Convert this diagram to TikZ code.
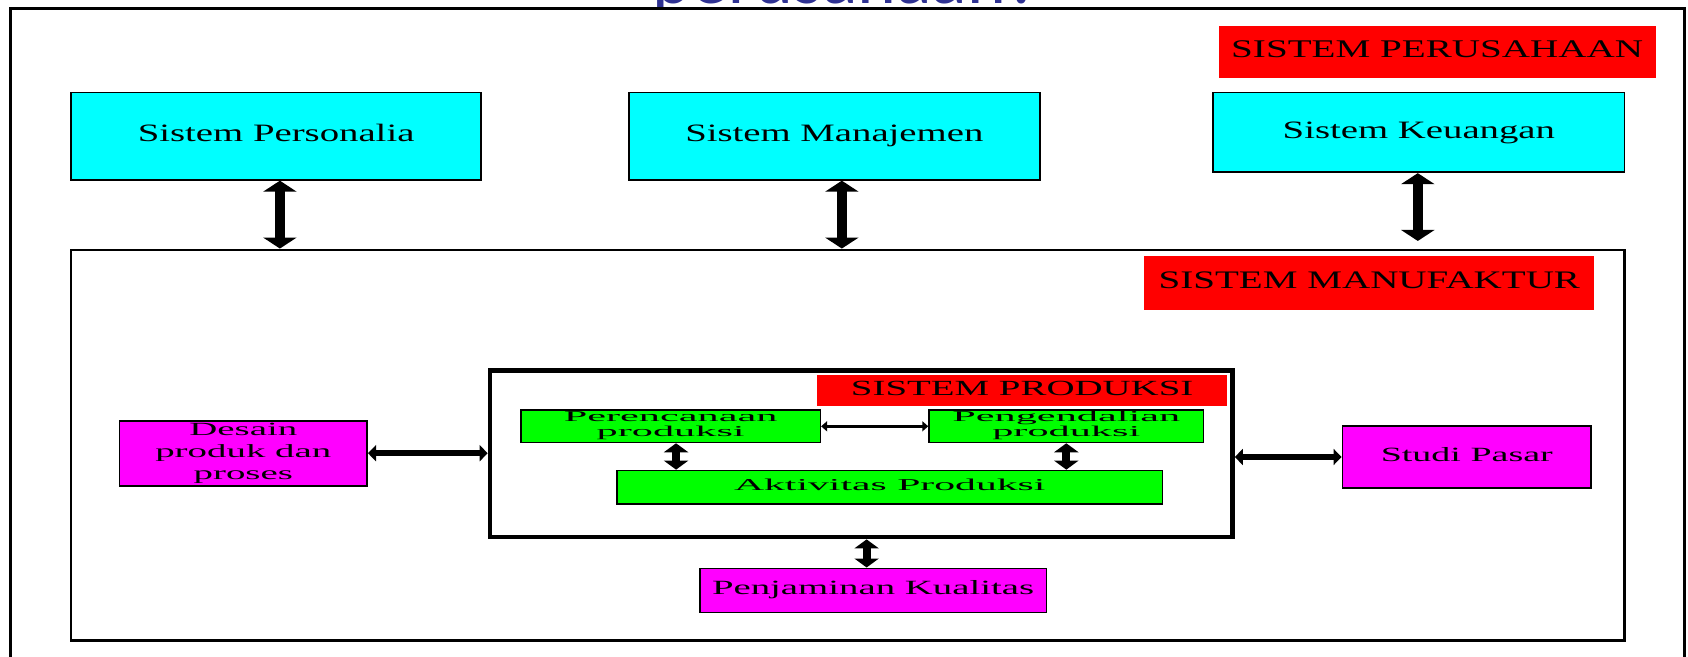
\documentclass[tikz,border=0pt]{standalone}
\usepackage{fontspec}
\usepackage{graphicx}
\setmainfont{Liberation Serif}
\newfontfamily\titlefont{Carlito}
\usetikzlibrary{arrows.meta}
% one drawing unit in points
\def\px{0.5382pt}
% wide text: size, baselineskip, horizontal stretch, lines
\newcommand\wtx[4]{{\fontsize{#1pt}{#2pt}\selectfont\scalebox{#3}[1]{\begin{tabular}{@{}c@{}}#4\end{tabular}}}}
\definecolor{titleblue}{HTML}{2E3192}
\definecolor{boxcyan}{HTML}{00FFFF}
\definecolor{boxred}{HTML}{FF0000}
\definecolor{boxmag}{HTML}{FF00FF}
\definecolor{boxgreen}{HTML}{00FF00}
\begin{document}
\begin{tikzpicture}[x=0.5382pt,y=-0.5382pt,
  box/.style={draw=black,line width=0.9pt,inner sep=0pt},
  tag/.style={fill=boxred,inner sep=0pt},
  bigarrow/.style={line width=4.8pt,{Triangle[width=16.5pt,length=5.5pt]}-{Triangle[width=16.5pt,length=5.5pt]}},
  midarrow/.style={line width=4pt,{Triangle[width=12pt,length=4.5pt]}-{Triangle[width=12pt,length=4.5pt]}},
  harrow/.style={line width=3.2pt,{Triangle[width=8pt,length=4pt]}-{Triangle[width=8pt,length=4pt]}},
  thinarrow/.style={line width=1.8pt,{Triangle[width=5pt,length=3pt]}-{Triangle[width=5pt,length=3pt]}}]
\useasboundingbox (0,0) rectangle (1568,610);
\clip (0,0) rectangle (1568,610);

% heading above the frame
\node[anchor=base west,inner sep=0pt,text=titleblue,
      font=\titlefont\fontsize{37pt}{40pt}\selectfont] (ttl) at (606,3) {perusahaan?};

% outer frame
\node[draw=black,fill=white,line width=1.3pt,inner sep=0pt,
      minimum width=1555*\px,minimum height=642*\px] (frame) at (787.5,329) {};

% company level
\node[tag,minimum width=406*\px,minimum height=48*\px] (sp) at (1335,48)
  {\wtx{12.7}{14}{1.54}{SISTEM PERUSAHAAN}};
\node[box,fill=boxcyan,minimum width=381*\px,minimum height=81*\px] (pers) at (256.5,126.5)
  {\wtx{12.5}{14}{1.55}{Sistem Personalia}};
\node[box,fill=boxcyan,minimum width=382*\px,minimum height=81*\px] (man) at (775,126.5)
  {\wtx{12.5}{14}{1.55}{Sistem Manajemen}};
\node[box,fill=boxcyan,minimum width=382*\px,minimum height=74*\px] (keu) at (1318,123)
  {\wtx{12.5}{14}{1.55}{Sistem Keuangan}};

% manufacturing system
\node[box,line width=1.2pt,minimum width=1443*\px,minimum height=363*\px] (mfg) at (787.5,413.5) {};
\node[tag,minimum width=418*\px,minimum height=50*\px] (smf) at (1272,263)
  {\wtx{12.6}{14}{1.55}{SISTEM MANUFAKTUR}};

% production system
\node[box,line width=2.2pt,minimum width=690*\px,minimum height=155*\px] (prod) at (800,421.5) {};
\node[tag,minimum width=381*\px,minimum height=29*\px] (spr) at (949.5,362.5)
  {\wtx{10.8}{12}{1.80}{SISTEM PRODUKSI}};
\node[box,line width=0.8pt,fill=boxgreen,minimum width=278*\px,minimum height=30*\px] (pren) at (623,396)
  {\wtx{7.5}{7.5}{2.82}{Perencanaan\\produksi}};
\node[box,line width=0.8pt,fill=boxgreen,minimum width=255*\px,minimum height=30*\px] (peng) at (990.5,396)
  {\wtx{7.5}{7.5}{2.82}{Pengendalian\\produksi}};
\node[box,line width=0.8pt,fill=boxgreen,minimum width=507*\px,minimum height=31*\px] (akt) at (826.5,452.5)
  {\wtx{8.3}{9}{2.51}{Aktivitas Produksi}};

% surrounding functions
\node[box,fill=boxmag,minimum width=230*\px,minimum height=60*\px] (des) at (226,421)
  {\wtx{9.3}{10.8}{2.09}{Desain\\produk dan\\proses}};
\node[box,fill=boxmag,minimum width=231*\px,minimum height=57*\px] (stu) at (1362.5,424.5)
  {\wtx{10.1}{11}{1.88}{Studi Pasar}};
\node[box,fill=boxmag,minimum width=322*\px,minimum height=41*\px] (pjk) at (811,548.5)
  {\wtx{10.1}{11}{1.92}{Penjaminan Kualitas}};

% connectors
\draw[bigarrow] ([xshift=3.5*\px]pers.south) -- ([xshift=3.5*\px]pers.south |- mfg.north);
\draw[bigarrow] ([xshift=7*\px]man.south) -- ([xshift=7*\px]man.south |- mfg.north);
\draw[bigarrow,shorten >=3.8pt] ([xshift=-1*\px]keu.south) -- ([xshift=-1*\px]keu.south |- mfg.north);
\draw[thinarrow] (pren.east) -- (peng.west);
\draw[midarrow] ([xshift=5*\px]pren.south) -- ([xshift=5*\px]pren.south |- akt.north);
\draw[midarrow] (peng.south) -- (peng.south |- akt.north);
\draw[harrow] (des.east) -- (des.east -| prod.west);
\draw[harrow] (prod.east |- stu.west) -- (stu.west);
\draw[midarrow] ([xshift=-6*\px]pjk.north |- prod.south) -- ([xshift=-6*\px]pjk.north);
\end{tikzpicture}
\end{document}
